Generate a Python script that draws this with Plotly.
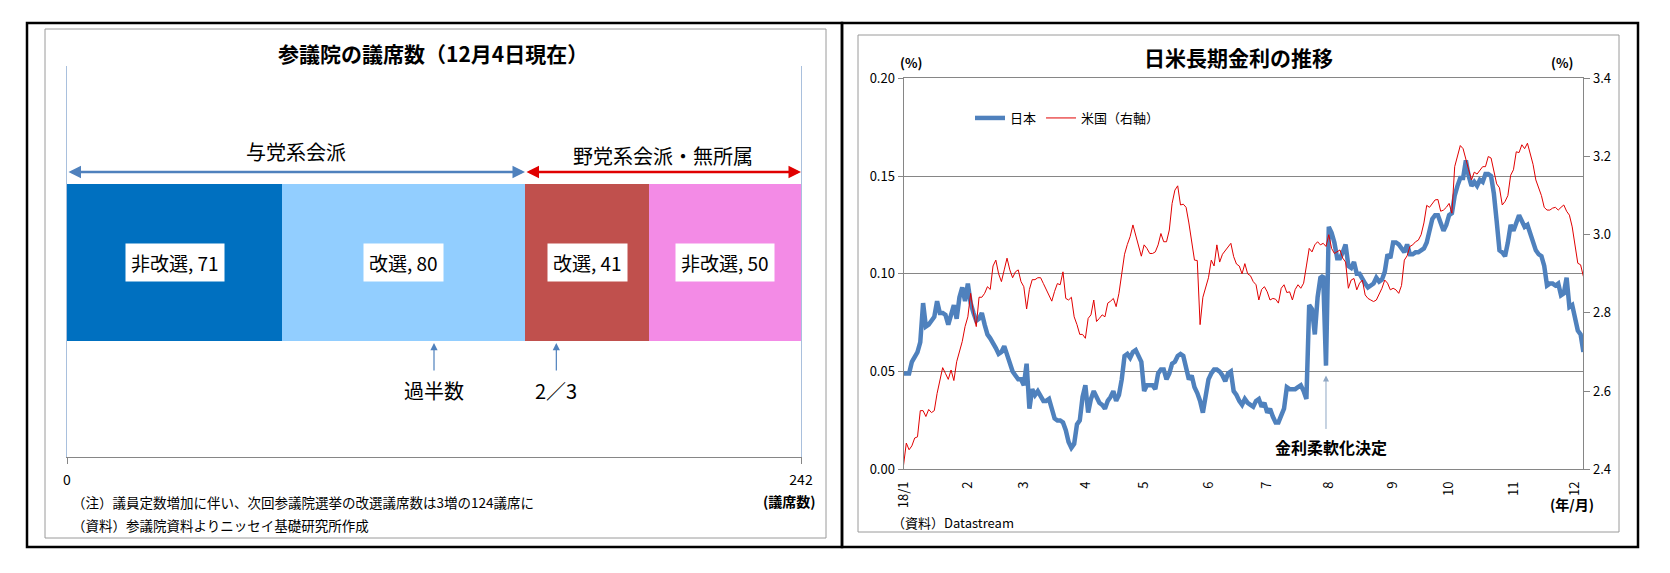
import pandas as pd
import plotly.graph_objects as go

W, H = 1670, 573
OFF = 8  # page body margin offsets the figure by 8px in the window
FONT = "Noto Sans CJK JP"

# ---------------- left chart data ----------------
seat_groups = ["非改選", "改選", "改選", "非改選"]
seat_counts = [71, 80, 41, 50]
seat_colors = ["#0070C0", "#92CEFF", "#C0504D", "#F38BE6"]
bloc_labels = ["与党系会派", "野党系会派・無所属"]
bloc_colors = ["#4F81BD", "#E00000"]
total_seats = 242
threshold_labels = ["過半数", "2／3"]
threshold_fracs = [1 / 2, 2 / 3]

# ---------------- right chart data ----------------
start_date, end_date = "2018-01-01", "2018-12-06"
month_labels = ["18/1", "2", "3", "4", "5", "6", "7", "8", "9", "10", "11", "12"]
boj_date = "2018-07-31"

jp_yield = [
    0.049, 0.049, 0.049, 0.055, 0.058, 0.060, 0.065, 0.085, 0.073, 0.074,
    0.076, 0.078, 0.086, 0.080, 0.080, 0.079, 0.074, 0.079, 0.084, 0.077,
    0.088, 0.093, 0.086, 0.095, 0.085, 0.080, 0.076, 0.077, 0.080, 0.074,
    0.069, 0.067, 0.065, 0.062, 0.059, 0.060, 0.063, 0.058, 0.053, 0.050,
    0.048, 0.046, 0.046, 0.043, 0.054, 0.031, 0.041, 0.038, 0.040, 0.037,
    0.035, 0.035, 0.036, 0.031, 0.026, 0.025, 0.025, 0.024, 0.020, 0.014,
    0.011, 0.013, 0.023, 0.025, 0.037, 0.043, 0.029, 0.036, 0.040, 0.037,
    0.034, 0.033, 0.031, 0.035, 0.037, 0.040, 0.035, 0.038, 0.046, 0.058,
    0.059, 0.057, 0.060, 0.061, 0.058, 0.055, 0.040, 0.043, 0.043, 0.043,
    0.041, 0.049, 0.051, 0.051, 0.046, 0.049, 0.054, 0.055, 0.058, 0.059,
    0.058, 0.052, 0.046, 0.048, 0.042, 0.039, 0.035, 0.029, 0.037, 0.046,
    0.049, 0.051, 0.051, 0.050, 0.048, 0.045, 0.049, 0.050, 0.040, 0.038,
    0.035, 0.033, 0.036, 0.034, 0.033, 0.032, 0.035, 0.036, 0.032, 0.034,
    0.029, 0.031, 0.027, 0.024, 0.024, 0.028, 0.031, 0.042, 0.041, 0.041,
    0.041, 0.042, 0.043, 0.040, 0.036, 0.084, 0.082, 0.069, 0.088, 0.098,
    0.099, 0.053, 0.124, 0.121, 0.116, 0.108, 0.108, 0.111, 0.115, 0.104,
    0.103, 0.106, 0.100, 0.100, 0.097, 0.095, 0.093, 0.094, 0.095, 0.098,
    0.096, 0.097, 0.101, 0.110, 0.108, 0.116, 0.116, 0.115, 0.113, 0.111,
    0.115, 0.110, 0.110, 0.111, 0.111, 0.112, 0.113, 0.116, 0.122, 0.128,
    0.130, 0.130, 0.126, 0.122, 0.125, 0.130, 0.131, 0.140, 0.145, 0.149,
    0.149, 0.158, 0.150, 0.145, 0.147, 0.145, 0.148, 0.147, 0.151, 0.151,
    0.150, 0.141, 0.127, 0.112, 0.111, 0.109, 0.116, 0.125, 0.122, 0.127,
    0.130, 0.127, 0.124, 0.125, 0.121, 0.116, 0.112, 0.110, 0.109, 0.104,
    0.094, 0.095, 0.095, 0.094, 0.095, 0.089, 0.090, 0.098, 0.083, 0.084,
    0.078, 0.071, 0.069, 0.060,
]

us_yield = [
    2.410, 2.467, 2.450, 2.460, 2.480, 2.483, 2.550, 2.550, 2.535, 2.553,
    2.545, 2.550, 2.594, 2.630, 2.660, 2.645, 2.630, 2.654, 2.627, 2.675,
    2.700, 2.727, 2.765, 2.790, 2.850, 2.800, 2.765, 2.840, 2.840, 2.850,
    2.867, 2.860, 2.920, 2.935, 2.900, 2.880, 2.910, 2.940, 2.910, 2.890,
    2.905, 2.910, 2.880, 2.867, 2.810, 2.860, 2.885, 2.885, 2.890, 2.890,
    2.875, 2.860, 2.846, 2.830, 2.855, 2.875, 2.872, 2.905, 2.837, 2.833,
    2.840, 2.790, 2.770, 2.745, 2.745, 2.735, 2.786, 2.795, 2.833, 2.778,
    2.786, 2.795, 2.790, 2.825, 2.830, 2.837, 2.816, 2.850, 2.900, 2.950,
    2.975, 2.995, 3.025, 3.000, 2.970, 2.945, 2.974, 2.965, 2.952, 2.952,
    2.956, 2.974, 3.003, 2.982, 2.982, 3.012, 3.080, 3.114, 3.125, 3.076,
    3.078, 3.070, 3.030, 2.985, 2.935, 2.934, 2.770, 2.840, 2.867, 2.890,
    2.935, 2.920, 2.974, 2.930, 2.950, 2.960, 2.970, 2.978, 2.944, 2.925,
    2.920, 2.900, 2.926, 2.900, 2.895, 2.880, 2.872, 2.833, 2.860, 2.867,
    2.854, 2.833, 2.837, 2.835, 2.825, 2.863, 2.872, 2.852, 2.854, 2.833,
    2.860, 2.872, 2.863, 2.876, 2.920, 2.965, 2.956, 2.974, 2.982, 2.974,
    2.978, 2.970, 3.000, 2.965, 2.952, 2.956, 2.961, 2.940, 2.930, 2.863,
    2.884, 2.888, 2.859, 2.876, 2.884, 2.846, 2.837, 2.833, 2.829, 2.833,
    2.846, 2.863, 2.884, 2.876, 2.859, 2.863, 2.859, 2.850, 2.870, 2.935,
    2.946, 2.970, 2.974, 2.982, 2.986, 3.000, 3.030, 3.075, 3.070, 3.080,
    3.089, 3.090, 3.060, 3.063, 3.070, 3.080, 3.055, 3.174, 3.200, 3.228,
    3.220, 3.190, 3.166, 3.140, 3.160, 3.155, 3.166, 3.174, 3.174, 3.200,
    3.196, 3.160, 3.130, 3.120, 3.076, 3.085, 3.100, 3.152, 3.166, 3.212,
    3.210, 3.230, 3.220, 3.234, 3.205, 3.180, 3.140, 3.120, 3.100, 3.070,
    3.063, 3.063, 3.068, 3.070, 3.063, 3.070, 3.076, 3.060, 3.050, 3.020,
    2.970, 2.927, 2.923, 2.893,
]

left_ticks = [0, 0.05, 0.10, 0.15, 0.20]
right_ticks = [2.4, 2.6, 2.8, 3.0, 3.2, 3.4]

# ---------------- derived ----------------
dts = pd.bdate_range(start_date, end_date)
dates = [d.strftime("%Y-%m-%d") for d in dts]
assert len(dates) == len(jp_yield) == len(us_yield)
tick_dates = [dts[dts.month == m][0].strftime("%Y-%m-%d") for m in range(1, 13)]


def px(x):
    return (x - OFF) / W


def py(y):
    return 1 - (y - OFF) / H


def ptext(x, y, text, size, anchor="center", **kw):
    d = dict(x=px(x), y=py(y), xref="paper", yref="paper", text=text,
             showarrow=False, xanchor=anchor, yanchor="middle",
             font=dict(size=size, color="black"))
    d.update(kw)
    return d


fig = go.Figure()

# ---- stacked bar (left)
BAR_Y, BAR_W = 0.497, 0.4015
for lab, v, c in zip(seat_groups, seat_counts, seat_colors):
    fig.add_trace(go.Bar(x=[v], y=[BAR_Y], orientation="h", width=BAR_W,
                         marker=dict(color=c, line=dict(width=0)),
                         xaxis="x", yaxis="y", showlegend=False, hoverinfo="skip"))

# ---- lines (right)
fig.add_trace(go.Scatter(x=dates, y=jp_yield, mode="lines", name="日本",
                         line=dict(color="#4F81BD", width=4.5),
                         xaxis="x2", yaxis="y2"))
fig.add_trace(go.Scatter(x=dates, y=us_yield, mode="lines", name="米国（右軸）",
                         line=dict(color="#E00000", width=1),
                         xaxis="x2", yaxis="y3"))

ann = []
# bar value labels
cum = 0
for lab, v in zip(seat_groups, seat_counts):
    ann.append(dict(x=cum + v / 2, y=BAR_Y, xref="x", yref="y", text=f"{lab}, {v}",
                    showarrow=False, bgcolor="white", borderpad=5,
                    xanchor="center", yanchor="middle",
                    font=dict(size=19, color="black")))
    cum += v

# bloc arrows and labels
ruling = seat_counts[0] + seat_counts[1]
bloc_spans = [(0, ruling), (ruling, total_seats)]
for (a, b), lab, col, ty in zip(bloc_spans, bloc_labels, bloc_colors, [0.7826, 0.772]):
    ann.append(dict(x=b, y=0.729, xref="x", yref="y", ax=a, ay=0.729,
                    axref="x", ayref="y", text="", showarrow=True,
                    arrowside="end+start", arrowhead=2, arrowsize=1,
                    arrowwidth=2.5, arrowcolor=col))
    ann.append(dict(x=(a + b) / 2, y=ty, xref="x", yref="y", text=lab,
                    showarrow=False, xanchor="center", yanchor="middle",
                    font=dict(size=20, color="black")))

# thresholds
for lab, f in zip(threshold_labels, threshold_fracs):
    xs = total_seats * f
    ann.append(dict(x=xs, y=0.2916, xref="x", yref="y", ax=0, ay=29, text="",
                    showarrow=True, arrowhead=2, arrowsize=1.2, arrowwidth=1.2,
                    arrowcolor="#4F81BD"))
    ann.append(dict(x=xs, y=0.171, xref="x", yref="y", text=lab, showarrow=False,
                    xanchor="center", yanchor="middle",
                    font=dict(size=20, color="black")))

# left texts
ann += [
    ptext(433, 53, "<b>参議院の議席数（12月4日現在）</b>", 21),
    ptext(789, 501, "<b>(議席数)</b>", 14),
    ptext(70, 502, "（注）議員定数増加に伴い、次回参議院選挙の改選議席数は3増の124議席に",
          13.5, anchor="left"),
    ptext(70, 525, "（資料）参議院資料よりニッセイ基礎研究所作成", 13.5, anchor="left"),
]

# right texts
ann += [
    ptext(1238, 57, "<b>日米長期金利の推移</b>", 21),
    ptext(911, 63, "<b>(%)</b>", 13),
    ptext(1562, 63, "<b>(%)</b>", 13),
    ptext(1572, 504, "<b>(年/月)</b>", 14),
    ptext(890, 522, "（資料）Datastream", 13, anchor="left"),
    dict(x=boj_date, y=0.048, xref="x2", yref="y2", ax=0, ay=55, text="",
         showarrow=True, arrowhead=2, arrowsize=1.2, arrowwidth=1,
         arrowcolor="#8FA7C4"),
    ptext(1331, 447, "<b>金利柔軟化決定</b>", 16),
]

# frames
shapes = []
for (x0, x1, y0, y1) in [(27, 842, 23, 547), (842, 1638, 23, 547)]:
    shapes.append(dict(type="rect", xref="paper", yref="paper", x0=px(x0), x1=px(x1),
                       y0=py(y1), y1=py(y0), line=dict(color="black", width=2.5)))
for (x0, x1, y0, y1) in [(45, 826, 29, 538), (858, 1619, 35, 532)]:
    shapes.append(dict(type="rect", xref="paper", yref="paper", x0=px(x0), x1=px(x1),
                       y0=py(y1), y1=py(y0), line=dict(color="#9A9A9A", width=1)))

GRAY = "#868686"
fig.update_layout(
    width=W, height=H,
    margin=dict(l=0, r=0, t=0, b=0, pad=0, autoexpand=False),
    paper_bgcolor="white", plot_bgcolor="white",
    font=dict(family=FONT, color="black"),
    barmode="stack", bargap=0,
    annotations=ann, shapes=shapes,
    legend=dict(orientation="h", x=px(970), y=py(118), xanchor="left", yanchor="middle",
                bgcolor="rgba(0,0,0,0)", font=dict(size=13, color="black"),
                itemwidth=30, traceorder="normal"),
    xaxis=dict(domain=[px(67), px(801)], range=[0, total_seats], anchor="y",
               automargin=False,
               showgrid=False, zeroline=False, showline=True, linecolor=GRAY,
               ticks="outside", ticklen=6, tickcolor=GRAY,
               tickvals=[0, total_seats], ticktext=["0", str(total_seats)],
               tickfont=dict(size=14), ticklabelstandoff=4),
    yaxis=dict(domain=[py(457), py(66)], range=[0, 1], anchor="x", automargin=False,
               showgrid=False, zeroline=False, showticklabels=False,
               showline=True, linecolor="#A9C0DD", mirror=True),
    xaxis2=dict(domain=[px(903.5), px(1583.4)], anchor="y2", type="category",
                automargin=False,
                range=[0, len(dates) - 1], tickvals=tick_dates, ticktext=month_labels,
                tickangle=-90, showgrid=False, zeroline=False, showline=True,
                linecolor=GRAY, mirror=True, ticks="", tickfont=dict(size=13),
                ticklabelstandoff=6),
    yaxis2=dict(domain=[py(469.3), py(78.3)], anchor="x2", range=[0, 0.2],
                automargin=False,
                tickvals=left_ticks, ticktext=[f"{v:.2f}" for v in left_ticks],
                showgrid=True, gridcolor=GRAY, zeroline=False, showline=True,
                linecolor=GRAY, ticks="outside", ticklen=5, tickcolor=GRAY,
                tickfont=dict(size=13)),
    yaxis3=dict(overlaying="y2", side="right", anchor="x2", range=[2.4, 3.4],
                automargin=False,
                tickvals=right_ticks, ticktext=[f"{v:.1f}" for v in right_ticks],
                showgrid=False, zeroline=False, showline=True, linecolor=GRAY,
                ticks="outside", ticklen=6, tickcolor=GRAY, tickfont=dict(size=13)),
)

fig.write_html("out.html", config={"displayModeBar": False})
